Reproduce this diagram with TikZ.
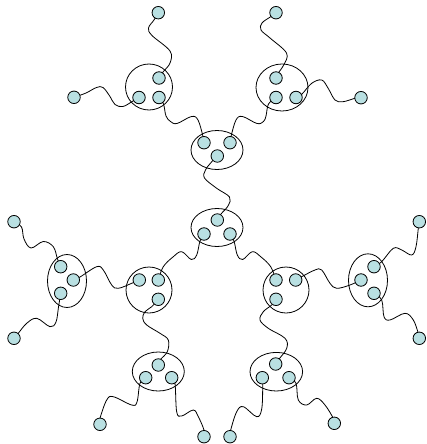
\documentclass[tikz,border=0pt]{standalone}
\usetikzlibrary{shapes.geometric}
\definecolor{ballfill}{RGB}{185,224,226}
\tikzset{
  ball/.style={circle, draw=black, fill=ballfill, line width=0.8pt, minimum size=12.5pt, inner sep=0pt},
  grp/.style={ellipse, draw=black, line width=0.8pt, inner sep=0pt},
  wire/.style={draw=black, line width=0.8pt},
}
\begin{document}
\begin{tikzpicture}[x=1pt, y=-1pt]
\useasboundingbox (0,0) rectangle (427,444);
% group ellipses
\node[grp, minimum width=47pt, minimum height=46pt] (gTL) at (149,87) {};
\node[grp, minimum width=52pt, minimum height=47pt] (gTR) at (282,87.5) {};
\node[grp, minimum width=52pt, minimum height=39pt] (gCT) at (217,150) {};
\node[grp, minimum width=52pt, minimum height=38pt] (gC) at (217,227.5) {};
\node[grp, minimum width=39pt, minimum height=53pt] (gL) at (67,281) {};
\node[grp, minimum width=46pt, minimum height=46pt] (gML) at (149,290) {};
\node[grp, minimum width=46pt, minimum height=46pt] (gMR) at (286,290) {};
\node[grp, minimum width=39pt, minimum height=53pt] (gR) at (368,280.3) {};
\node[grp, minimum width=52pt, minimum height=39pt] (gLL) at (158.3,371.5) {};
\node[grp, minimum width=52.6pt, minimum height=38.6pt] (gLR) at (276.3,371.7) {};
% coordinates of balls
\coordinate (pa1) at (159,78);   \coordinate (pa2) at (139,97.5);  \coordinate (pa3) at (159,97.5);
\coordinate (pfat) at (158.3,12.7); \coordinate (pfal) at (74,97.3);
\coordinate (pb1) at (276,78);   \coordinate (pb2) at (276,97.5);  \coordinate (pb3) at (296,97.5);
\coordinate (pfbt) at (276,12.7); \coordinate (pfbr) at (361,97.7);
\coordinate (pc1) at (204,142.7); \coordinate (pc2) at (230,142.7); \coordinate (pc3) at (217.3,156);
\coordinate (pd1) at (217.3,220); \coordinate (pd2) at (204,234); \coordinate (pd3) at (230,234);
\coordinate (pe1) at (60.7,266.7); \coordinate (pe2) at (73.3,280); \coordinate (pe3) at (60.7,293.3);
\coordinate (pfet) at (14,221.7); \coordinate (pfeb) at (14,338.3);
\coordinate (pf1) at (139.3,280); \coordinate (pf2) at (158.3,280); \coordinate (pf3) at (158.3,299.3);
\coordinate (pg1) at (276,280); \coordinate (pg2) at (295.7,280); \coordinate (pg3) at (276,299.3);
\coordinate (ph1) at (374,266.7); \coordinate (ph2) at (361,280); \coordinate (ph3) at (374,293.3);
\coordinate (pfht) at (419.3,221.7); \coordinate (pfhb) at (419.3,338.3);
\coordinate (pi1) at (158.3,365); \coordinate (pi2) at (145.7,377.7); \coordinate (pi3) at (171.7,377.7);
\coordinate (pfil) at (100,424.3); \coordinate (pfir) at (204,436.7);
\coordinate (pj1) at (275.7,364); \coordinate (pj2) at (262.3,377.7); \coordinate (pj3) at (289,377.7);
\coordinate (pfjl) at (230,436.7); \coordinate (pfjr) at (334.3,423.3);
% wires
\draw[wire] plot[smooth, tension=0.6] coordinates {(pa1) (163,72) (170,63) (170,51) (152,35.5) (148.5,28) (154,20) (pfat)};
\draw[wire] plot[smooth, tension=0.6] coordinates {(pa2) (133,101) (123,106.5) (115,104.5) (110,96.5) (103,87.5) (96.5,87.5) (86,93) (pfal)};
\draw[wire] plot[smooth, tension=0.6] coordinates {(pb1) (279,72) (284,64.5) (286.5,53) (270,38) (261,30) (262,23) (271,16.5) (pfbt)};
\draw[wire] plot[smooth, tension=0.6] coordinates {(pb3) (302,94) (311.7,83.3) (321.7,80) (328,88) (335,100) (343,101.7) (355,98.3) (pfbr)};
\draw[wire] plot[smooth, tension=0.6] coordinates {(pa3) (163.5,104) (166,116) (170.5,121.5) (177,123.5) (191.5,116.5) (198,120) (203,136.5) (pc1)};
\draw[wire] plot[smooth, tension=0.6] coordinates {(pb2) (268.5,104) (266,116) (263.5,121.5) (257,123.5) (242.5,116.5) (236,120) (231,136.5) (pc2)};
\draw[wire] plot[smooth, tension=0.6] coordinates {(pc3) (211.5,162) (205.5,170) (204.5,178) (216.7,188.3) (229.5,197) (228.3,205.5) (221,214) (pd1)};
\draw[wire] plot[smooth, tension=0.6] coordinates {(pf2) (163.3,266.7) (173.3,256.7) (181.7,251.7) (191.3,259.5) (196.7,255) (200,241) (pd2)};
\draw[wire] plot[smooth, tension=0.6] coordinates {(pd3) (234,241) (237.3,255) (242.7,259.5) (252.3,251.7) (260.7,256.7) (270.7,266.7) (pg1)};
\draw[wire] plot[smooth, tension=0.6] coordinates {(pe2) (80,277) (96.7,266.7) (103.3,270) (111.7,285) (118.3,288.3) (131.7,283.3) (pf1)};
\draw[wire] plot[smooth, tension=0.6] coordinates {(pg2) (301.7,276.7) (315,270) (321.7,270) (330,283.3) (336.7,288.3) (350,285) (ph2)};
\draw[wire] plot[smooth, tension=0.6] coordinates {(pe1) (57.5,259) (53.3,246.7) (43.3,241.5) (31,248) (24,239) (21.5,227) (pfet)};
\draw[wire] plot[smooth, tension=0.6] coordinates {(pe3) (58.5,307) (56,322) (50,326.7) (36.7,318.3) (26.7,323.3) (18.5,333) (pfeb)};
\draw[wire] plot[smooth, tension=0.6] coordinates {(ph1) (381.7,261.7) (393.3,248.3) (401.7,250) (411.7,255) (416,246.7) (418.3,228.3) (pfht)};
\draw[wire] plot[smooth, tension=0.6] coordinates {(ph3) (381.7,300) (384,316.7) (390,320) (405,313.3) (413.3,320) (418.3,333.3) (pfhb)};
\draw[wire] plot[smooth, tension=0.6] coordinates {(pf3) (151.7,306.7) (145,311.7) (142.7,318.3) (146.7,325) (160,333.3) (168.3,340) (167.3,351.7) (160,360) (pi1)};
\draw[wire] plot[smooth, tension=0.6] coordinates {(pg3) (271.7,305) (263.3,311.7) (260,320) (268.3,328.3) (285,338.3) (286.7,348.3) (278.3,360) (pj1)};
\draw[wire] plot[smooth, tension=0.6] coordinates {(pi2) (140,383.3) (137,402) (131.7,405) (113.3,396.7) (106.7,400) (100,418.3) (pfil)};
\draw[wire] plot[smooth, tension=0.6] coordinates {(pi3) (175,383.3) (176.7,412) (181.7,416) (193.3,410) (198.3,416.7) (204,430) (pfir)};
\draw[wire] plot[smooth, tension=0.6] coordinates {(pj2) (262.7,386.7) (261.7,409) (256.7,416.7) (243.3,406.7) (236.7,411.7) (230.7,430) (pfjl)};
\draw[wire] plot[smooth, tension=0.6] coordinates {(pj3) (296,383.3) (298.3,400) (306.7,405) (316.7,398.3) (325,405) (333.3,418.3) (pfjr)};
% balls
\foreach \n in {a1,a2,a3,fat,fal,b1,b2,b3,fbt,fbr,c1,c2,c3,d1,d2,d3,e1,e2,e3,fet,feb,f1,f2,f3,g1,g2,g3,h1,h2,h3,fht,fhb,i1,i2,i3,fil,fir,j1,j2,j3,fjl,fjr}
  \node[ball] (\n) at (p\n) {};
\end{tikzpicture}
\end{document}
